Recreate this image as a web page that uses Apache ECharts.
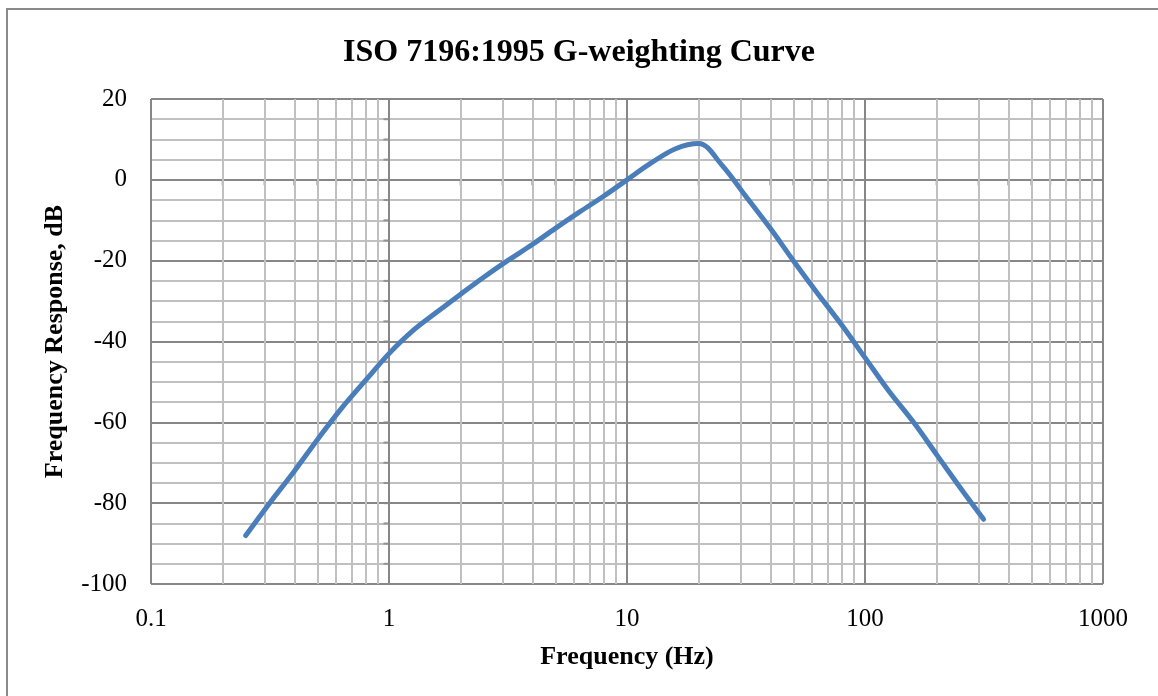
<!DOCTYPE html>
<html>
<head>
<meta charset="utf-8">
<script src="https://cdn.jsdelivr.net/npm/echarts@6/dist/echarts.min.js"></script>
<style>
html,body{margin:0;padding:0;background:#fff;}
#chart{width:1158px;height:696px;}
</style>
</head>
<body>
<div id="chart"></div>
<script>
// ---- Data ----
const frequencies = [0.25, 0.315, 0.4, 0.5, 0.63, 0.8, 1, 1.25, 1.6, 2, 2.5, 3.15, 4, 5, 6.3, 8, 10, 12.5, 16, 20, 25, 31.5, 40, 50, 63, 80, 100, 125, 160, 200, 250, 315];
const gWeighting = [-88.0, -80.0, -72.1, -64.3, -56.6, -49.5, -43.0, -37.5, -32.6, -28.3, -24.1, -20.0, -16.0, -12.0, -8.0, -4.0, 0.0, 4.0, 7.7, 9.0, 3.7, -4.0, -12.0, -20.0, -28.0, -36.0, -44.0, -52.0, -60.0, -68.0, -76.0, -84.0];
const xMinorLines = [0.2, 0.3, 0.4, 0.5, 0.6, 0.7, 0.8, 0.9, 2, 3, 4, 5, 6, 7, 8, 9, 20, 30, 40, 50, 60, 70, 80, 90, 200, 300, 400, 500, 600, 700, 800, 900];
const xTickPositions = [0.1, 0.2, 0.3, 0.4, 0.5, 0.6, 0.7, 0.8, 0.9, 1, 2, 3, 4, 5, 6, 7, 8, 9, 10, 20, 30, 40, 50, 60, 70, 80, 90, 100, 200, 300, 400, 500, 600, 700, 800, 900, 1000];
const yTickPositions = [20, 15, 10, 5, 0, -5, -10, -15, -20, -25, -30, -35, -40, -45, -50, -55, -60, -65, -70, -75, -80, -85, -90, -95, -100];
const xAxisLabels = { 0.1: '0.1', 1: '1', 10: '10', 100: '100', 1000: '1000' };

const FONT = "'Liberation Serif', 'Times New Roman', serif";
const MAJOR = '#878787';
const MINOR = '#c0c0c0';

const chart = echarts.init(document.getElementById('chart'));
chart.setOption({
  backgroundColor: '#ffffff',
  animation: false,
  graphic: [{
    type: 'rect',
    silent: true,
    shape: { x: 7, y: 9, width: 1300, height: 1000 },
    style: { fill: 'none', stroke: '#8a8a8a', lineWidth: 2 },
    z: -10
  }],
  title: {
    text: 'ISO 7196:1995 G-weighting Curve',
    left: 'center',
    top: 32,
    textStyle: { fontFamily: FONT, fontWeight: 'bold', fontSize: 32, color: '#000' }
  },
  grid: { left: 151, right: 55, top: 99, bottom: 112, containLabel: false },
  xAxis: {
    type: 'log',
    logBase: 10,
    min: 0.1,
    max: 1000,
    name: 'Frequency (Hz)',
    nameLocation: 'middle',
    nameGap: 60,
    nameTextStyle: { fontFamily: FONT, fontWeight: 'bold', fontSize: 26, color: '#000' },
    axisLine: { show: false },
    axisTick: { show: false },
    axisLabel: {
      fontFamily: FONT, fontSize: 25, color: '#000', margin: 23,
      formatter: v => xAxisLabels[+v] !== undefined ? xAxisLabels[+v] : String(v)
    },
    splitLine: { show: true, lineStyle: { color: MAJOR, width: 2 } }
  },
  yAxis: {
    type: 'value',
    min: -100,
    max: 20,
    interval: 20,
    name: 'Frequency Response, dB',
    nameLocation: 'middle',
    nameGap: 83,
    nameTextStyle: { fontFamily: FONT, fontWeight: 'bold', fontSize: 26, color: '#000' },
    axisLine: { show: false },
    axisTick: { show: false },
    axisLabel: { fontFamily: FONT, fontSize: 25, color: '#000', margin: 24 },
    splitLine: { show: true, lineStyle: { color: MAJOR, width: 2 } },
    minorTick: { show: false, splitNumber: 4 },
    minorSplitLine: { show: true, lineStyle: { color: MINOR, width: 2 } }
  },
  series: [
    {
      name: 'minorGrid',
      type: 'line',
      data: [],
      silent: true,
      z: -1,
      markLine: {
        silent: true,
        symbol: ['none', 'none'],
        label: { show: false },
        lineStyle: { color: MINOR, width: 2, type: 'solid' },
        emphasis: { disabled: true },
        animation: false,
        data: xMinorLines.map(v => ({ xAxis: v }))
      }
    },
    {
      name: 'xTicks',
      type: 'scatter',
      silent: true,
      z: 1,
      symbol: 'rect',
      symbolSize: [2, 5],
      symbolOffset: [0, 3],
      itemStyle: { color: MAJOR },
      data: xTickPositions.map(f => [f, 0])
    },
    {
      name: 'yTicks',
      type: 'scatter',
      silent: true,
      z: 1,
      symbol: 'rect',
      symbolSize: [5, 2],
      symbolOffset: [-3, 0],
      itemStyle: { color: MAJOR },
      data: yTickPositions.map(v => [1, v])
    },
    {
      name: 'G-weighting',
      type: 'line',
      smooth: 0.35,
      showSymbol: false,
      symbol: 'none',
      z: 5,
      lineStyle: { color: '#4a7ebb', width: 5, cap: 'round', join: 'round' },
      data: frequencies.map((f, i) => [f, gWeighting[i]])
    }
  ]
});
</script>
</body>
</html>
